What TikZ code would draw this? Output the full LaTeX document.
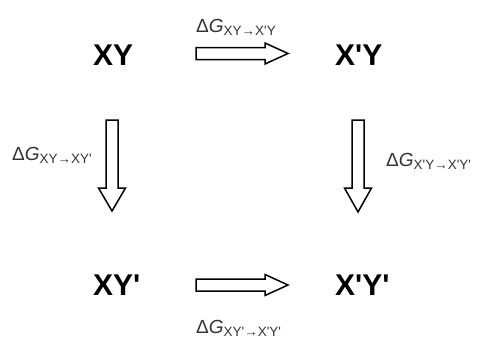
\documentclass[tikz,border=0pt]{standalone}
\usepackage{fontspec}
\setmainfont{Liberation Sans}
\newfontfamily\lab{Liberation Sans}
\tikzset{
  state/.style={font=\lab\fontsize{30}{30}\selectfont\bfseries, inner sep=0pt, anchor=base west},
  dg/.style={font=\lab\fontsize{19}{19}\selectfont, inner sep=0pt, anchor=base west, text=black!80},
  fat/.style={draw=black, line width=1.5pt, fill=white, line join=miter}
}
\newcommand{\dG}[1]{Δ\textit{G}\raisebox{-3.5pt}{\fontsize{13.5}{13.5}\selectfont #1}}
\begin{document}
\begin{tikzpicture}[x=1pt,y=-1pt]
\useasboundingbox (0,0) rectangle (484,338);
% states
\node[state] (xy)   at (93,65)  {XY};
\node[state] (xpy)  at (335,65) {X'Y};
\node[state] (xyp)  at (93,295) {XY'};
\node[state] (xpyp) at (335,295) {X'Y'};
% labels
\node[dg] (lt) at (196,32)  {\dG{XY→X'Y}};
\node[dg] (ll) at (12,160)  {\dG{XY→XY'}};
\node[dg] (lr) at (386,166) {\dG{X'Y→X'Y'}};
\node[dg] (lb) at (196,333) {\dG{XY'→X'Y'}};
% arrows
\draw[fat] (196,47.5) -- (265,47.5) -- (265,43) -- (288,53.5) -- (265,64) -- (265,59.5) -- (196,59.5) -- cycle;
\draw[fat] (196,279) -- (265,279) -- (265,274.5) -- (288,285) -- (265,295.5) -- (265,291) -- (196,291) -- cycle;
\draw[fat] (106,120) -- (106,188) -- (98.5,188) -- (112,211) -- (125.5,188) -- (118,188) -- (118,120) -- cycle;
\draw[fat] (352,120) -- (352,188) -- (344.5,188) -- (358,212) -- (371.5,188) -- (364,188) -- (364,120) -- cycle;
\end{tikzpicture}
\end{document}
